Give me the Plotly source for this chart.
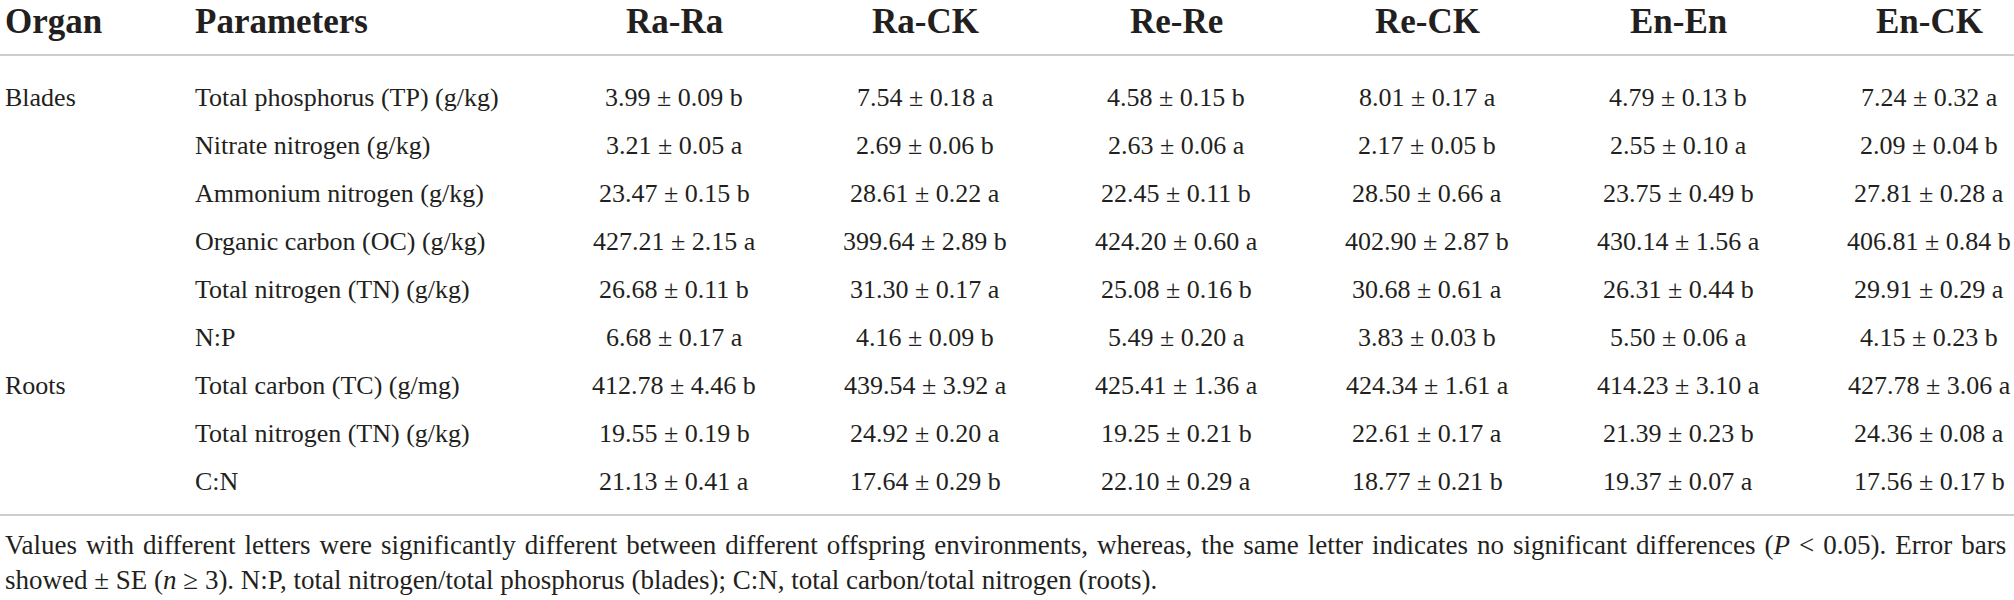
import plotly.graph_objects as go

# table content
organs = ["Blades", "", "", "", "", "", "Roots", "", ""]
parameters = [
    "Total phosphorus (TP) (g/kg)",
    "Nitrate nitrogen (g/kg)",
    "Ammonium nitrogen (g/kg)",
    "Organic carbon (OC) (g/kg)",
    "Total nitrogen (TN) (g/kg)",
    "N:P",
    "Total carbon (TC) (g/mg)",
    "Total nitrogen (TN) (g/kg)",
    "C:N",
]
treatments = ["Ra-Ra", "Ra-CK", "Re-Re", "Re-CK", "En-En", "En-CK"]

ra_ra_mean = [3.99, 3.21, 23.47, 427.21, 26.68, 6.68, 412.78, 19.55, 21.13]
ra_ra_se = [0.09, 0.05, 0.15, 2.15, 0.11, 0.17, 4.46, 0.19, 0.41]
ra_ra_letter = ["b", "a", "b", "a", "b", "a", "b", "b", "a"]

ra_ck_mean = [7.54, 2.69, 28.61, 399.64, 31.30, 4.16, 439.54, 24.92, 17.64]
ra_ck_se = [0.18, 0.06, 0.22, 2.89, 0.17, 0.09, 3.92, 0.20, 0.29]
ra_ck_letter = ["a", "b", "a", "b", "a", "b", "a", "a", "b"]

re_re_mean = [4.58, 2.63, 22.45, 424.20, 25.08, 5.49, 425.41, 19.25, 22.10]
re_re_se = [0.15, 0.06, 0.11, 0.60, 0.16, 0.20, 1.36, 0.21, 0.29]
re_re_letter = ["b", "a", "b", "a", "b", "a", "a", "b", "a"]

re_ck_mean = [8.01, 2.17, 28.50, 402.90, 30.68, 3.83, 424.34, 22.61, 18.77]
re_ck_se = [0.17, 0.05, 0.66, 2.87, 0.61, 0.03, 1.61, 0.17, 0.21]
re_ck_letter = ["a", "b", "a", "b", "a", "b", "a", "a", "b"]

en_en_mean = [4.79, 2.55, 23.75, 430.14, 26.31, 5.50, 414.23, 21.39, 19.37]
en_en_se = [0.13, 0.10, 0.49, 1.56, 0.44, 0.06, 3.10, 0.23, 0.07]
en_en_letter = ["b", "a", "b", "a", "b", "a", "a", "b", "a"]

en_ck_mean = [7.24, 2.09, 27.81, 406.81, 29.91, 4.15, 427.78, 24.36, 17.56]
en_ck_se = [0.32, 0.04, 0.28, 0.84, 0.29, 0.23, 3.06, 0.08, 0.17]
en_ck_letter = ["a", "b", "a", "b", "a", "b", "a", "a", "b"]

footnote_1 = ("Values with different letters were significantly different between different offspring "
              "environments, whereas, the same letter indicates no significant differences "
              "(<i>P</i> &lt; 0.05). Error bars")
footnote_2 = ("showed \u00b1 SE (<i>n</i> \u2265 3). N:P, total nitrogen/total phosphorus (blades); "
              "C:N, total carbon/total nitrogen (roots).")

columns = [
    (ra_ra_mean, ra_ra_se, ra_ra_letter),
    (ra_ck_mean, ra_ck_se, ra_ck_letter),
    (re_re_mean, re_re_se, re_re_letter),
    (re_ck_mean, re_ck_se, re_ck_letter),
    (en_en_mean, en_en_se, en_en_letter),
    (en_ck_mean, en_ck_se, en_ck_letter),
]

# layout settings
W, H = 2014, 600
FONT = "Liberation Serif"
TEXT_COLOR = "#231f20"
LINE_COLOR = "#bdbdbd"
col_x = [674, 925, 1176, 1427, 1678, 1929]
organ_x = 3
param_x = 193
header_y = 21
row_y0 = 97
row_h = 48
body_size = 26
header_size = 35
foot_size = 27

fig = go.Figure()
annotations = []


def add_text(x, y, text, size, anchor="left", bold=False):
    if bold:
        text = "<b>" + text + "</b>"
    annotations.append(dict(
        x=x, y=y, xref="x", yref="y", text=text, showarrow=False,
        xanchor=anchor, yanchor="middle",
        font=dict(family=FONT, size=size, color=TEXT_COLOR),
    ))


# header
add_text(organ_x, header_y, "Organ", header_size, bold=True)
add_text(param_x, header_y, "Parameters", header_size, bold=True)
for x, name in zip(col_x, treatments):
    add_text(x, header_y, name, header_size, anchor="center", bold=True)

# body
for i, (organ, param) in enumerate(zip(organs, parameters)):
    y = row_y0 + i * row_h
    if organ:
        add_text(organ_x, y, organ, body_size)
    add_text(param_x, y, param, body_size)
    for x, (means, ses, letters) in zip(col_x, columns):
        cell = f"{means[i]:.2f} \u00b1 {ses[i]:.2f} {letters[i]}"
        add_text(x, y, cell, body_size, anchor="center")

# footnote, first line has slightly wider word gaps so it looks justified
add_text(organ_x, 545, footnote_1.replace(" ", "\u2004"), foot_size)
add_text(organ_x, 580, footnote_2, foot_size)

# rules
for y in [55, 515]:
    fig.add_shape(type="line", x0=0, x1=W, y0=y, y1=y, xref="x", yref="y",
                  line=dict(color=LINE_COLOR, width=1.5))

fig.update_layout(
    width=W, height=H,
    margin=dict(l=0, r=0, t=0, b=0),
    paper_bgcolor="white", plot_bgcolor="white",
    xaxis=dict(range=[0, W], visible=False, fixedrange=True),
    yaxis=dict(range=[H, 0], visible=False, fixedrange=True),
    annotations=annotations,
    showlegend=False,
)

# page body margin would push the figure off the window
fig.write_html("out.html", config={"displayModeBar": False},
               post_script="document.body.style.margin='0';document.body.style.overflow='hidden';")
